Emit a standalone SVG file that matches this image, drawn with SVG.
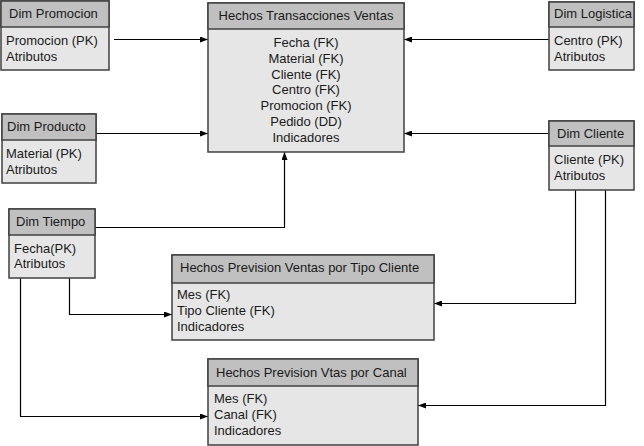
<svg xmlns="http://www.w3.org/2000/svg" width="644" height="446" viewBox="0 0 644 446">
<style>
.hd{fill:#c0c0c0;stroke:#404040;stroke-width:1.5}
.bd{fill:#e6e6e6;stroke:#404040;stroke-width:1.5}
text{font-family:"Liberation Sans",Arial,sans-serif;font-size:13px;fill:#1a1a1a}
.c{text-anchor:middle}
.ln{fill:none;stroke:#000;stroke-width:1.2;marker-end:url(#ah)}
</style>
<defs>
<marker id="ah" markerWidth="8" markerHeight="6" refX="8" refY="3" orient="auto" markerUnits="userSpaceOnUse">
<path d="M0,0 L8,3 L0,6 Z" fill="#000"/>
</marker>
</defs>
<rect width="644" height="446" fill="#fff"/>
<g id="connectors">
<path class="ln" d="M114,39.5 H208"/>
<path class="ln" d="M96,133.5 H208"/>
<path class="ln" d="M549,39.5 H404"/>
<path class="ln" d="M549,133.5 H404"/>
<path class="ln" d="M95,227.5 H284.5 V152"/>
<path class="ln" d="M69.5,278 V314.5 H172"/>
<path class="ln" d="M20.5,278 V416.5 H208"/>
<path class="ln" d="M575.5,190 V303.5 H434"/>
<path class="ln" d="M605.5,190 V405.5 H418"/>
</g>
<g id="dim-promocion">
<rect class="bd" x="1" y="1" width="108" height="69"/>
<rect class="hd" x="1" y="1" width="108" height="26"/>
<text x="9" y="18">Dim Promocion</text>
<text x="6" y="45">Promocion (PK)</text>
<text x="6" y="61">Atributos</text>
</g>
<g id="dim-producto">
<rect class="bd" x="2" y="114" width="94" height="69"/>
<rect class="hd" x="2" y="114" width="94" height="26"/>
<text x="7" y="131">Dim Producto</text>
<text x="6" y="158">Material (PK)</text>
<text x="6" y="174">Atributos</text>
</g>
<g id="hechos-transacciones-ventas">
<rect class="bd" x="208" y="3" width="196" height="149"/>
<rect class="hd" x="208" y="3" width="196" height="26"/>
<text class="c" x="306" y="20">Hechos Transacciones Ventas</text>
<text class="c" x="306" y="47">Fecha (FK)</text>
<text class="c" x="306" y="63">Material (FK)</text>
<text class="c" x="306" y="79">Cliente (FK)</text>
<text class="c" x="306" y="94">Centro (FK)</text>
<text class="c" x="306" y="110">Promocion (FK)</text>
<text class="c" x="306" y="126">Pedido (DD)</text>
<text class="c" x="306" y="142">Indicadores</text>
</g>
<g id="dim-logistica">
<rect class="bd" x="549" y="2" width="85" height="68"/>
<rect class="hd" x="549" y="2" width="85" height="25"/>
<text x="554" y="18">Dim Logistica</text>
<text x="554" y="45">Centro (PK)</text>
<text x="554" y="61">Atributos</text>
</g>
<g id="dim-cliente">
<rect class="bd" x="549" y="121" width="85" height="69"/>
<rect class="hd" x="549" y="121" width="85" height="25"/>
<text x="557" y="138">Dim Cliente</text>
<text x="554" y="164">Cliente (PK)</text>
<text x="554" y="180">Atributos</text>
</g>
<g id="dim-tiempo">
<rect class="bd" x="9" y="209" width="86" height="69"/>
<rect class="hd" x="9" y="209" width="86" height="26"/>
<text x="16" y="226">Dim Tiempo</text>
<text x="14" y="253">Fecha(PK)</text>
<text x="14" y="268">Atributos</text>
</g>
<g id="hechos-prevision-tipo-cliente">
<rect class="bd" x="172" y="255" width="262" height="85"/>
<rect class="hd" x="172" y="255" width="262" height="28"/>
<text x="180" y="272">Hechos Prevision Ventas por Tipo Cliente</text>
<text x="177" y="299">Mes (FK)</text>
<text x="177" y="315">Tipo Cliente (FK)</text>
<text x="177" y="331">Indicadores</text>
</g>
<g id="hechos-prevision-canal">
<rect class="bd" x="208" y="359" width="210" height="86"/>
<rect class="hd" x="208" y="359" width="210" height="27"/>
<text x="216" y="377">Hechos Prevision Vtas por Canal</text>
<text x="214" y="403">Mes (FK)</text>
<text x="214" y="419">Canal (FK)</text>
<text x="214" y="435">Indicadores</text>
</g>
</svg>
